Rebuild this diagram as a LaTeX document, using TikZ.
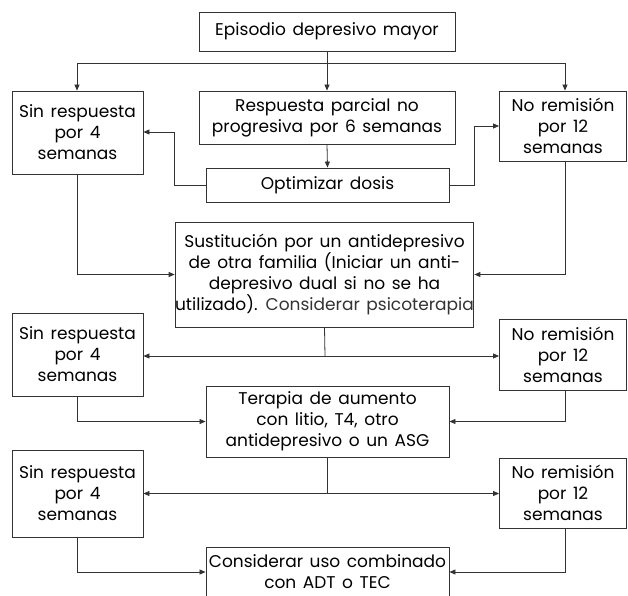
\documentclass[tikz,border=0pt]{standalone}
\usepackage{fontspec}
\setmainfont{Poppins}[WordSpace=1.45]
\usetikzlibrary{arrows.meta}
\definecolor{ln}{HTML}{333333}
\begin{document}
\begin{tikzpicture}[x=1pt,y=-1pt,
  box/.style={draw=ln,line width=0.9pt,inner sep=0pt,align=center,font=\fontsize{17}{21}\selectfont,text=black},
  conn/.style={draw=ln,line width=0.8pt},
  arr/.style={conn,-{Triangle[length=6pt,width=5pt]}}]
\clip (0,0) rectangle (628,595);
\fill[white] (0,0) rectangle (628,595);
\node[box,minimum width=256pt,minimum height=39pt] (top) at (327,31.5) {Episodio depresivo mayor};
\node[box,minimum width=131pt,minimum height=83pt] (L1) at (77.5,132.5) {Sin respuesta\\por 4\\semanas};
\node[box,minimum width=256pt,minimum height=53pt] (M1) at (327,117.5) {Respuesta parcial no\\progresiva por 6 semanas};
\node[box,minimum width=127pt,minimum height=70pt] (R1) at (563,126) {No remisión\\por 12\\semanas};
\node[box,minimum width=243pt,minimum height=34pt] (Opt) at (327.5,185) {Optimizar dosis};
\node[box,minimum width=295pt,minimum height=105pt] (Sust) at (324.5,274.5) {Sustitución por un antidepresivo\\de otra familia (Iniciar un anti-\\depresivo dual si no se ha\\utilizado). {\color{black!80}Considerar psicoterapia}};
\node[box,minimum width=131pt,minimum height=83pt] (L2) at (77.5,354.5) {Sin respuesta\\por 4\\semanas};
\node[box,minimum width=127pt,minimum height=71pt] (R2) at (563,354.5) {No remisión\\por 12\\semanas};
\node[box,minimum width=243pt,minimum height=71pt] (Ter) at (327.5,421.5) {Terapia de aumento\\con litio, T4, otro\\antidepresivo o un ASG};
\node[box,minimum width=131pt,minimum height=87pt] (L3) at (77.5,493.5) {Sin respuesta\\por 4\\semanas};
\node[box,minimum width=127pt,minimum height=70pt] (R3) at (563,493) {No remisión\\por 12\\semanas};
\node[box,minimum width=243pt,minimum height=50pt] (Cons) at (327.5,572) {Considerar uso combinado\\con ADT o TEC};
% connectors
\coordinate (t1) at (77,63);
\coordinate (t2) at (565,63);
\draw[arr] (top.south) -- (M1.north);
\draw[conn] (t1) -- (t2);
\draw[arr] (t1) -- (t1 |- L1.north);
\draw[arr] (t2) -- (t2 |- R1.north);
\draw[arr] (M1.south) -- (Opt.north);
\coordinate (o1) at (174,132);
\coordinate (o2) at (474,126);
\draw[arr] (Opt.west) -| (o1) -- (o1 -| L1.east);
\draw[arr] (Opt.east) -| (o2) -- (o2 -| R1.west);
\draw[arr] (t1 |- L1.south) |- (Sust.west);
\draw[arr] (t2 |- R1.south) |- (Sust.east);
\coordinate (s1) at (325,356);
\draw[conn] (Sust.south) -- (s1);
\draw[arr] (s1) -- (s1 -| L2.east);
\draw[arr] (s1) -- (s1 -| R2.west);
\draw[arr] (t1 |- L2.south) |- (Ter.west);
\draw[arr] (t2 |- R2.south) |- (Ter.east);
\coordinate (u1) at (327.5,493.5);
\draw[conn] (Ter.south) -- (u1);
\draw[arr] (u1) -- (u1 -| L3.east);
\draw[arr] (u1) -- (u1 -| R3.west);
\draw[arr] (t1 |- L3.south) |- (Cons.west);
\draw[arr] (t2 |- R3.south) |- (Cons.east);
\end{tikzpicture}
\end{document}
